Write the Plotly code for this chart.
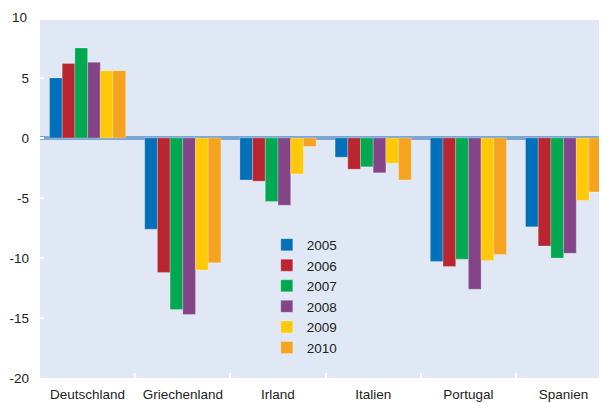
import plotly.graph_objects as go

countries = ["Deutschland", "Griechenland", "Irland", "Italien", "Portugal", "Spanien"]
years = ["2005", "2006", "2007", "2008", "2009", "2010"]
v2005 = [5.0, -7.6, -3.5, -1.6, -10.3, -7.4]
v2006 = [6.2, -11.2, -3.6, -2.6, -10.7, -9.0]
v2007 = [7.5, -14.3, -5.3, -2.4, -10.1, -10.0]
v2008 = [6.3, -14.7, -5.6, -2.9, -12.6, -9.6]
v2009 = [5.6, -11.0, -3.0, -2.1, -10.2, -5.2]
v2010 = [5.6, -10.4, -0.7, -3.5, -9.7, -4.5]
series = [v2005, v2006, v2007, v2008, v2009, v2010]
colors = ["#0070BA", "#BA2630", "#00A84F", "#834588", "#FFC90A", "#F6A31F"]
ytick_vals = [-20, -15, -10, -5, 0, 5]
ytick_text = ["-20", "-15", "-10", "-5", "0", "5"]
ymin, ymax = -20, 9.83

fig = go.Figure()
for yr, vals, c in zip(years, series, colors):
    fig.add_trace(go.Bar(x=countries, y=vals, name=yr,
                         marker=dict(color=c, line=dict(width=0.8, color="rgba(255,255,255,0.3)"))))

font = "Liberation Sans, Arial, sans-serif"
fig.update_layout(
    width=599, height=395,
    margin=dict(l=32, r=0, t=12, b=25, autoexpand=False),
    paper_bgcolor="white", plot_bgcolor="#E1E8F5",
    barmode="group", bargap=0.2, bargroupgap=0,
    font=dict(family=font, size=13.5, color="#222222"),
    showlegend=True,
    legend=dict(x=0.40, y=0.415, xanchor="left", yanchor="top",
                bgcolor="rgba(0,0,0,0)", font=dict(size=13.5, color="#222222"),
                tracegroupgap=0, itemwidth=30),
    xaxis=dict(range=[-0.5, 5.456], showgrid=False, ticks="inside", tickson="boundaries",
               tickcolor="white", ticklen=5, tickwidth=2, showline=False,
               tickfont=dict(size=13.5), ticklabelstandoff=6),
    yaxis=dict(range=[ymin, ymax], tickvals=ytick_vals, ticktext=ytick_text, showgrid=False,
               ticks="inside", tickcolor="white", ticklen=4, tickwidth=2,
               zeroline=True, zerolinecolor="#7BA7D2", zerolinewidth=3.5,
               layer="above traces", tickfont=dict(size=13.5), ticklabelstandoff=10),
    annotations=[dict(text="10", x=0, xref="paper", y=(10 - ymin) / (ymax - ymin), yref="paper",
                      xanchor="right", yanchor="middle", xshift=-11, showarrow=False,
                      font=dict(size=13.5, color="#222222"))],
)
fig.write_html("out.html")
